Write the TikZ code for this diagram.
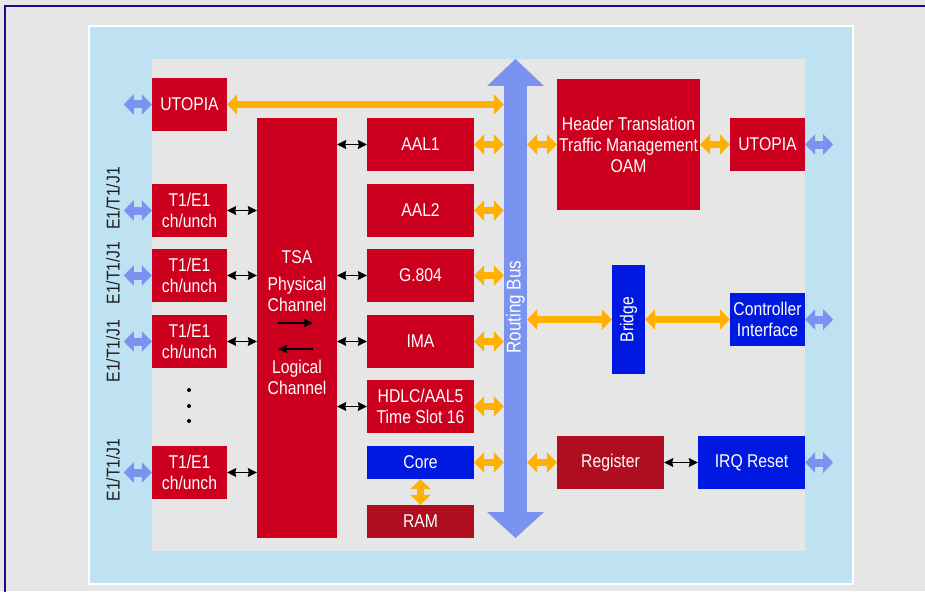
\documentclass[tikz,border=0pt]{standalone}
\usepackage{fontspec}
\setmainfont[FakeStretch=0.85]{Liberation Sans}
\usetikzlibrary{arrows.meta}
\definecolor{bgray}{RGB}{230,230,230}
\definecolor{panel}{RGB}{190,226,242}
\definecolor{bred}{RGB}{204,0,30}
\definecolor{dred}{RGB}{174,14,32}
\definecolor{bblue}{RGB}{0,25,224}
\definecolor{oarr}{RGB}{255,176,0}
\definecolor{larr}{RGB}{122,146,240}
\definecolor{frame}{RGB}{26,10,138}
\definecolor{lbl}{RGB}{30,30,30}
\begin{document}
\begin{tikzpicture}[x=1pt,y=-1pt,
  box/.style={inner sep=0pt, text=white, align=center, font=\fontsize{18.5}{21}\selectfont},
  redbox/.style={box, fill=bred},
  darkbox/.style={box, fill=dred},
  bluebox/.style={box, fill=bblue},
  small/.style={minimum width=75pt, minimum height=53pt},
  mid/.style={minimum width=107pt, minimum height=53pt},
  orng/.style={draw=oarr, line width=7pt, {Triangle[width=20pt,length=10pt]}-{Triangle[width=20pt,length=10pt]}},
  larrow/.style={draw=larr, line width=8pt, {Triangle[width=20pt,length=10pt]}-{Triangle[width=20pt,length=10pt]}},
  blk/.style={draw=black, line width=1.4pt, {Stealth[length=9pt,width=9pt,inset=1pt]}-{Stealth[length=9pt,width=9pt,inset=1pt]}},
  one/.style={draw=black, line width=1.3pt, -{Stealth[length=9pt,width=8pt,inset=1pt]}},
  sidelbl/.style={rotate=90, text=lbl, inner sep=0pt, font=\fontsize{18.5}{21}\selectfont},
  tsatxt/.style={anchor=base, text=white, inner sep=0pt, font=\fontsize{18.5}{21}\selectfont}
]
\useasboundingbox (0,0) rectangle (925,591);
\fill[bgray] (0,0) rectangle (925,591);
\draw[frame, line width=2pt] (5,600) -- (5,6) -- (935,6);
\draw[fill=panel, draw=white, line width=1.5pt] (89,26) rectangle (853,584);
\fill[bgray] (152,59) rectangle (805,551);

% left column
\node[redbox, small] (utl) at (189.5,104.5) {UTOPIA};
\node[redbox, small] (t1a) at (189.5,210.5) {T1/E1\\ch/unch};
\node[redbox, small] (t1b) at (189.5,275.5) {T1/E1\\ch/unch};
\node[redbox, small] (t1c) at (189.5,341.5) {T1/E1\\ch/unch};
\node[redbox, small] (t1d) at (189.5,472.5) {T1/E1\\ch/unch};
\fill (189,390) circle (2pt) (189,406) circle (2pt) (189,421) circle (2pt);

% side labels
\node[sidelbl] (la) at (113,198.5) {E1/T1/J1};
\node[sidelbl] (lb) at (113,273) {E1/T1/J1};
\node[sidelbl] (lc) at (113,351) {E1/T1/J1};
\node[sidelbl] (ld) at (113,470) {E1/T1/J1};

% TSA
\node[redbox, minimum width=80pt, minimum height=420pt] (tsa) at (297,328) {};
\node[tsatxt] (tsa1) at (297,263) {TSA};
\node[tsatxt] (tsa2) at (297,290) {Physical};
\node[tsatxt] (tsa3) at (297,311) {Channel};
\node[tsatxt] (tsa4) at (297,373) {Logical};
\node[tsatxt] (tsa5) at (297,394) {Channel};
\coordinate (ra) at (278,323); \coordinate (rb) at (313,323);
\coordinate (la1) at (313,349); \coordinate (la2) at (278,349);
\draw[one] (ra) -- (rb);
\draw[one] (la1) -- (la2);

% middle column
\node[redbox, mid] (aal1) at (420.5,144.5) {AAL1};
\node[redbox, mid] (aal2) at (420.5,210.5) {AAL2};
\node[redbox, mid] (g804) at (420.5,275.5) {G.804};
\node[redbox, mid] (ima) at (420.5,341.5) {IMA};
\node[redbox, mid] (hdlc) at (420.5,406.5) {HDLC/AAL5\\Time Slot 16};
\node[bluebox, minimum width=107pt, minimum height=33pt] (core) at (420.5,462.5) {Core};
\node[darkbox, minimum width=107pt, minimum height=33pt] (ram) at (420.5,521.5) {RAM};

% routing bus
\node[fill=larr, inner sep=0pt, minimum width=23pt, minimum height=426pt] (bus) at (515.5,299) {};
\fill[larr] (487,86) -- (515.5,59) -- (544,86) -- cycle;
\fill[larr] (487,512) -- (515.5,538) -- (544,512) -- cycle;
\node[rotate=90, text=white, inner sep=0pt, font=\fontsize{20}{21}\selectfont] (bustxt) at (515.5,307) {Routing Bus};

% right side
\node[redbox, minimum width=143pt, minimum height=131pt] (hdr) at (628.5,144.5) {Header Translation\\Traffic Management\\OAM};
\node[redbox, small] (utr) at (767.5,144.5) {UTOPIA};
\node[bluebox, minimum width=33pt, minimum height=109pt] (brg) at (628.5,319.5) {};
\node[rotate=90, text=white, inner sep=0pt, font=\fontsize{18.5}{21}\selectfont] (brgtxt) at (628.5,319.5) {Bridge};
\node[bluebox, small] (ctl) at (767.5,319.5) {Controller\\Interface};
\node[darkbox, mid] (reg) at (610.5,462.5) {Register};
\node[bluebox, mid] (irq) at (751.5,462.5) {IRQ Reset};

% orange connectors
\draw[orng] (utl.east) -- (bus.west |- utl.east);
\foreach \n in {aal1,aal2,g804,ima,hdlc,core}{
  \draw[orng] (\n.east) -- (bus.west |- \n.east);
}
\draw[orng] (bus.east |- hdr.west) -- (hdr.west);
\draw[orng] (hdr.east |- utr.west) -- (utr.west);
\draw[orng] (bus.east |- brg.west) -- (brg.west);
\draw[orng] (brg.east |- ctl.west) -- (ctl.west);
\draw[orng] (bus.east |- reg.west) -- (reg.west);
\draw[orng] (core.south) -- (ram.north);

% black connectors
\foreach \n in {t1a,t1b,t1c,t1d}{
  \draw[blk] (\n.east) -- (tsa.west |- \n.east);
}
\foreach \n in {aal1,g804,ima,hdlc}{
  \draw[blk] (tsa.east |- \n.west) -- (\n.west);
}
\draw[blk] (reg.east) -- (irq.west);

% light blue external arrows
\foreach \n in {utl,t1a,t1b,t1c,t1d}{
  \coordinate (e\n) at ([xshift=-28pt]\n.west);
  \draw[larrow] (e\n) -- (\n.west);
}
\foreach \n in {utr,ctl,irq}{
  \coordinate (e\n) at ([xshift=28pt]\n.east);
  \draw[larrow] (\n.east) -- (e\n);
}
\end{tikzpicture}
\end{document}
